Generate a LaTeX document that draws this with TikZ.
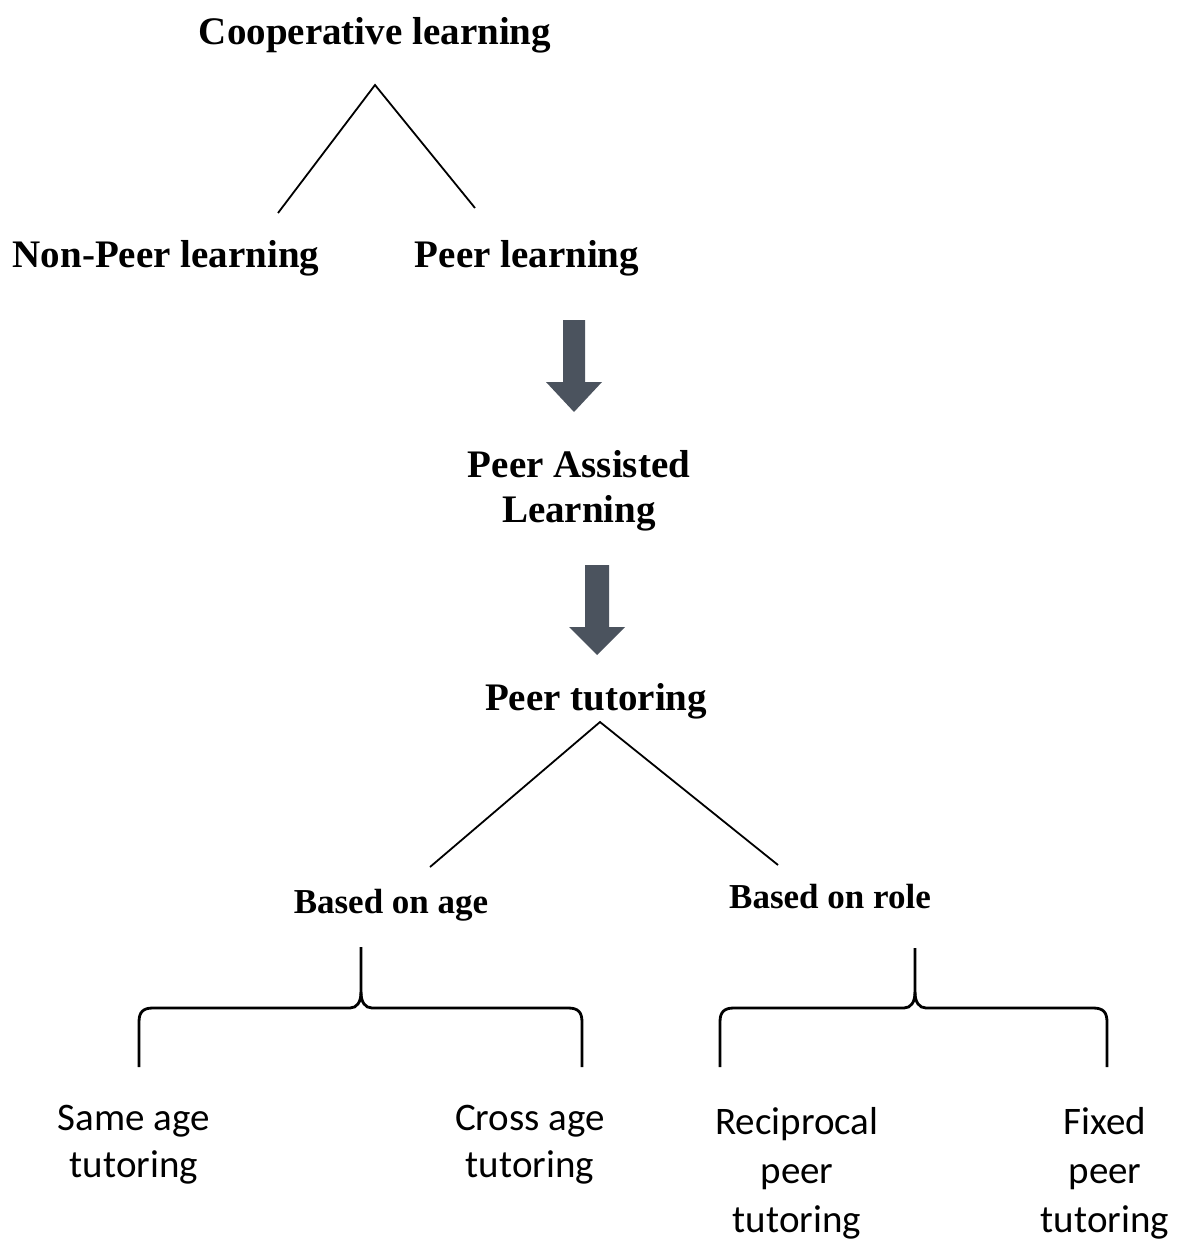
\documentclass[tikz,border=0pt]{standalone}
\usepackage{fontspec}
\setmainfont{Liberation Serif}
\newfontfamily\labfont{Carlito}
\definecolor{arrowgray}{HTML}{4B535E}
\begin{document}
\begin{tikzpicture}[x=1pt,y=-1pt,
  serifbig/.style={font=\fontsize{39}{45}\selectfont\bfseries, inner sep=0pt, anchor=base, align=center},
  serifmid/.style={font=\fontsize{35}{42}\selectfont\bfseries, inner sep=0pt, anchor=base},
  leafl/.style={font=\labfont\fontsize{39}{47}\selectfont, align=center, inner sep=0pt, anchor=base},
  leafr/.style={font=\labfont\fontsize{39}{49}\selectfont, align=center, inner sep=0pt, anchor=base},
  treeline/.style={line width=1.8pt, black},
  bracket/.style={line width=2.8pt, black},
  bigarrow/.style={fill=arrowgray, draw=none}]
\useasboundingbox (0,0) rectangle (1177,1244);

% text nodes (anchor=base is the baseline of the last line)
\node[serifbig] (coop) at (375,45) {Cooperative learning};
\node[serifbig] (nonpeer) at (166,267) {Non-Peer learning};
\node[serifbig] (peer) at (527,267) {Peer learning};
\node[serifbig] (pal) at (579,522) {Peer Assisted\\Learning};
\node[serifbig] (tut) at (596,710) {Peer tutoring};
\node[serifmid] (age) at (391,913) {Based on age};
\node[serifmid] (role) at (830,908) {Based on role};
\node[leafl] (same) at (134,1177) {Same age\\tutoring};
\node[leafl] (cross) at (530,1177) {Cross age\\tutoring};
\node[leafr] (recip) at (797,1232) {Reciprocal\\peer\\tutoring};
\node[leafr] (fixed) at (1105,1232) {Fixed\\peer\\tutoring};

% connector end points
\coordinate (coopApex) at (375,85);
\coordinate (nonpeerTop) at (278,213);
\coordinate (peerTop) at (475,208);
\coordinate (tutApex) at (600,722);
\coordinate (ageTop) at (430,867);
\coordinate (roleTop) at (778,865);

\draw[treeline] (nonpeerTop) -- (coopApex) -- (peerTop);
\draw[treeline] (ageTop) -- (tutApex) -- (roleTop);

% block arrows
\fill[bigarrow] (563,320) -- (585,320) -- (585,382) -- (602,382) -- (574,412)
  -- (546,382) -- (563,382) -- cycle;
\fill[bigarrow] (585,565) -- (609,565) -- (609,627) -- (625,627) -- (597,655)
  -- (569,627) -- (585,627) -- cycle;

% brackets
\draw[bracket] (139,1067) -- (139,1022) .. controls (139,1012) and (143,1008) .. (153,1008)
  -- (350,1008) .. controls (357,1008) and (361,1002) .. (361,992) -- (361,947);
\draw[bracket] (361,992) .. controls (361,1002) and (365,1008) .. (372,1008)
  -- (568,1008) .. controls (578,1008) and (582,1012) .. (582,1022) -- (582,1067);

\draw[bracket] (720,1067) -- (720,1022) .. controls (720,1012) and (724,1008) .. (734,1008)
  -- (904,1008) .. controls (911,1008) and (915,1002) .. (915,992) -- (915,948);
\draw[bracket] (915,992) .. controls (915,1002) and (919,1008) .. (926,1008)
  -- (1093,1008) .. controls (1103,1008) and (1107,1012) .. (1107,1022) -- (1107,1067);
\end{tikzpicture}
\end{document}
